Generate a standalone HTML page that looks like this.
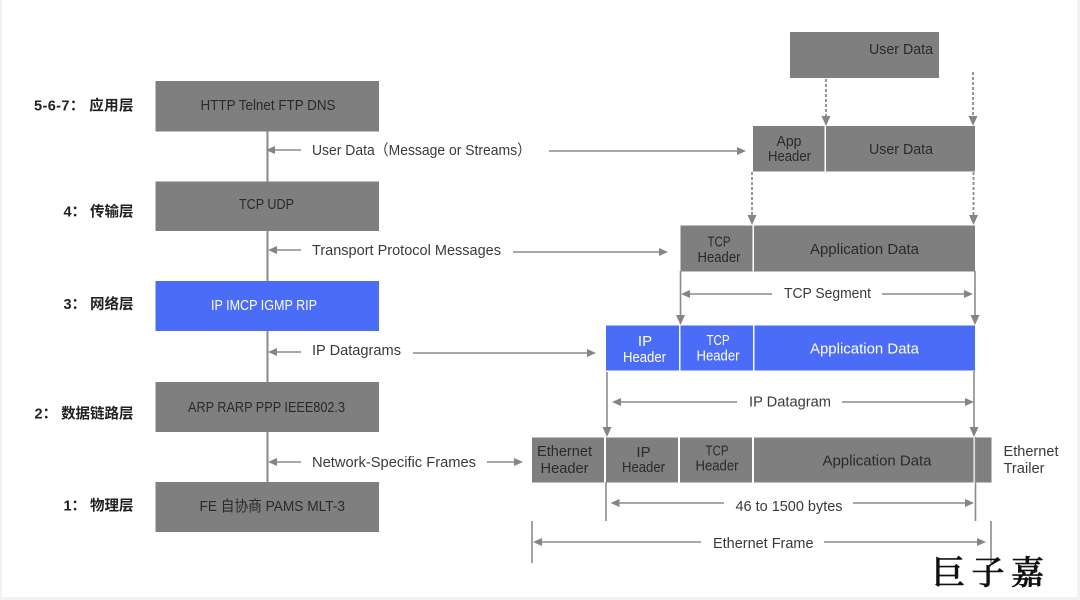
<!DOCTYPE html>
<html>
<head>
<meta charset="utf-8">
<style>
html,body{margin:0;padding:0;background:#fff;}
svg{display:block;}
text{font-family:"Liberation Sans","Noto Sans CJK SC",sans-serif;font-size:15px;fill:#3a3a3a;}
.d{fill:#2a2a2a;}
.w{fill:#fff;}
.c{text-anchor:middle;}
.b{font-weight:bold;fill:#222;font-size:14.5px;}
.g{fill:#7f7f7f;}
.u{fill:#4a6cf7;}
.l{stroke:#8a8a8a;stroke-width:1.6;fill:none;}
.t{stroke:#8a8a8a;stroke-width:2;fill:none;}
.s{stroke:#8a8a8a;stroke-width:1.8;stroke-dasharray:3 2;fill:none;}
.a{fill:#858585;}
</style>
</head>
<body>
<svg width="1080" height="600" viewBox="0 0 1080 600" xmlns="http://www.w3.org/2000/svg">
<rect x="0" y="0" width="1080" height="600" fill="#f2f2f2"/>
<rect x="2" y="0" width="1075" height="597" fill="#fff"/>

<!-- left stack -->
<line class="t" x1="267.5" y1="131" x2="267.5" y2="482"/>
<rect class="g" x="155.5" y="81" width="223.5" height="50.5"/>
<rect class="g" x="155.5" y="181.5" width="223.5" height="49.5"/>
<rect class="u" x="155.5" y="281" width="223.5" height="50"/>
<rect class="g" x="155.5" y="382" width="223.5" height="50"/>
<rect class="g" x="155.5" y="482" width="223.5" height="50"/>

<text class="d" x="200.5" y="110" textLength="135" lengthAdjust="spacingAndGlyphs">HTTP Telnet FTP DNS</text>
<text class="d" x="239" y="209" textLength="55" lengthAdjust="spacingAndGlyphs">TCP UDP</text>
<text class="w" x="211" y="310" textLength="106" lengthAdjust="spacingAndGlyphs">IP IMCP IGMP RIP</text>
<text class="d" x="188" y="412" textLength="157" lengthAdjust="spacingAndGlyphs">ARP RARP PPP IEEE802.3</text>
<text class="d" x="199.5" y="511" textLength="145.5" lengthAdjust="spacingAndGlyphs">FE 自协商 PAMS MLT-3</text>

<text class="b" x="34" y="110.5" textLength="99.5" lengthAdjust="spacing">5-6-7： 应用层</text>
<text class="b" x="63.5" y="216.5" textLength="70" lengthAdjust="spacing">4： 传输层</text>
<text class="b" x="63.5" y="309" textLength="70" lengthAdjust="spacing">3： 网络层</text>
<text class="b" x="34.5" y="418.5" textLength="99" lengthAdjust="spacing">2： 数据链路层</text>
<text class="b" x="63.5" y="510.5" textLength="70" lengthAdjust="spacing">1： 物理层</text>

<!-- middle labels and arrows -->
<line class="l" x1="275" y1="150" x2="301" y2="150"/>
<polygon class="a" points="266,150 275,146 275,154"/>
<text x="312" y="155" textLength="219" lengthAdjust="spacingAndGlyphs">User Data（Message or Streams）</text>
<line class="l" x1="549" y1="151" x2="738" y2="151"/>
<polygon class="a" points="746,151 737,147 737,155"/>

<line class="l" x1="276" y1="250" x2="301" y2="250"/>
<polygon class="a" points="268,250 277,246 277,254"/>
<text x="312" y="255" textLength="189" lengthAdjust="spacingAndGlyphs">Transport Protocol Messages</text>
<line class="l" x1="513" y1="252" x2="660" y2="252"/>
<polygon class="a" points="668,252 659,248 659,256"/>

<line class="l" x1="276" y1="352" x2="301" y2="352"/>
<polygon class="a" points="268,352 277,348 277,356"/>
<text x="312" y="355" textLength="89" lengthAdjust="spacingAndGlyphs">IP Datagrams</text>
<line class="l" x1="413" y1="353" x2="588" y2="353"/>
<polygon class="a" points="596,353 587,349 587,357"/>

<line class="l" x1="276" y1="462" x2="301" y2="462"/>
<polygon class="a" points="268,462 277,458 277,466"/>
<text x="312" y="467" textLength="164" lengthAdjust="spacingAndGlyphs">Network-Specific Frames</text>
<line class="l" x1="487" y1="462" x2="514" y2="462"/>
<polygon class="a" points="523,462 514,458 514,466"/>

<!-- top user data -->
<rect class="g" x="790" y="32" width="149" height="46"/>
<text class="d" x="869" y="54" textLength="64" lengthAdjust="spacingAndGlyphs">User Data</text>

<line class="s" x1="826" y1="79" x2="826" y2="117"/>
<polygon class="a" points="826,126 821.5,116 830.5,116"/>
<line class="s" x1="973" y1="72" x2="973" y2="117"/>
<polygon class="a" points="973,126 968.5,116 977.5,116"/>

<!-- app row -->
<rect class="g" x="753" y="126" width="71.5" height="45.5"/>
<rect class="g" x="826" y="126" width="149" height="45.5"/>
<text class="d c" x="789" y="146" textLength="25" lengthAdjust="spacingAndGlyphs">App</text>
<text class="d c" x="789.5" y="161" textLength="43" lengthAdjust="spacingAndGlyphs">Header</text>
<text class="d" x="869" y="154" textLength="64" lengthAdjust="spacingAndGlyphs">User Data</text>

<line class="s" x1="752" y1="172" x2="752" y2="216"/>
<polygon class="a" points="752,225 747.5,215 756.5,215"/>
<line class="s" x1="973.5" y1="172" x2="973.5" y2="216"/>
<polygon class="a" points="973.5,225 969,215 978,215"/>

<!-- tcp row -->
<rect class="g" x="680.5" y="225.5" width="72" height="46"/>
<rect class="g" x="754" y="225.5" width="221" height="46"/>
<text class="d c" x="719" y="246.5" textLength="23" lengthAdjust="spacingAndGlyphs">TCP</text>
<text class="d c" x="719" y="262" textLength="43" lengthAdjust="spacingAndGlyphs">Header</text>
<text class="d" x="810" y="254" textLength="109" lengthAdjust="spacingAndGlyphs">Application Data</text>

<line class="l" x1="680.5" y1="271" x2="680.5" y2="316"/>
<line class="l" x1="975" y1="271" x2="975" y2="316"/>
<polygon class="a" points="680.5,325 676,315 685,315"/>
<polygon class="a" points="975,325 970.5,315 979.5,315"/>
<line class="l" x1="689" y1="294" x2="772" y2="294"/>
<polygon class="a" points="681,294 690,290 690,298"/>
<text x="784" y="298" textLength="87" lengthAdjust="spacingAndGlyphs">TCP Segment</text>
<line class="l" x1="882" y1="294" x2="965" y2="294"/>
<polygon class="a" points="973,294 964,290 964,298"/>

<!-- ip row -->
<rect class="u" x="606" y="325.5" width="73" height="45"/>
<rect class="u" x="680.5" y="325.5" width="72.5" height="45"/>
<rect class="u" x="754.5" y="325.5" width="220.5" height="45"/>
<text class="w c" x="645" y="346">IP</text>
<text class="w c" x="644.5" y="362" textLength="43" lengthAdjust="spacingAndGlyphs">Header</text>
<text class="w c" x="718" y="345" textLength="23" lengthAdjust="spacingAndGlyphs">TCP</text>
<text class="w c" x="718" y="360.5" textLength="43" lengthAdjust="spacingAndGlyphs">Header</text>
<text class="w" x="810" y="353.5" textLength="109" lengthAdjust="spacingAndGlyphs">Application Data</text>

<line class="l" x1="607" y1="372" x2="607" y2="428"/>
<polygon class="a" points="607,437 602.5,427 611.5,427"/>
<line class="l" x1="974" y1="371" x2="974" y2="428"/>
<polygon class="a" points="974,437 969.5,427 978.5,427"/>
<line class="l" x1="620" y1="402" x2="737" y2="402"/>
<polygon class="a" points="612,402 621,398 621,406"/>
<text x="749" y="406.5" textLength="82" lengthAdjust="spacingAndGlyphs">IP Datagram</text>
<line class="l" x1="842" y1="402" x2="966" y2="402"/>
<polygon class="a" points="974,402 965,398 965,406"/>

<!-- ethernet row -->
<rect class="g" x="532" y="437.5" width="72" height="45"/>
<rect class="g" x="606" y="437.5" width="72" height="45"/>
<rect class="g" x="680" y="437.5" width="72" height="45"/>
<rect class="g" x="754" y="437.5" width="219.5" height="45"/>
<rect class="g" x="976" y="437.5" width="15.5" height="45"/>
<text class="d c" x="564.5" y="456" textLength="55" lengthAdjust="spacingAndGlyphs">Ethernet</text>
<text class="d c" x="564.5" y="473" textLength="48" lengthAdjust="spacingAndGlyphs">Header</text>
<text class="d c" x="643.5" y="457">IP</text>
<text class="d c" x="643.5" y="472" textLength="43" lengthAdjust="spacingAndGlyphs">Header</text>
<text class="d c" x="717" y="455.5" textLength="23" lengthAdjust="spacingAndGlyphs">TCP</text>
<text class="d c" x="717" y="470.5" textLength="43" lengthAdjust="spacingAndGlyphs">Header</text>
<text class="d" x="822.5" y="465.5" textLength="109" lengthAdjust="spacingAndGlyphs">Application Data</text>

<text x="1003.5" y="456" textLength="55" lengthAdjust="spacingAndGlyphs">Ethernet</text>
<text x="1003.5" y="473" textLength="41" lengthAdjust="spacingAndGlyphs">Trailer</text>

<!-- bytes -->
<line class="l" x1="606" y1="482" x2="606" y2="521"/>
<line class="l" x1="975.5" y1="437" x2="975.5" y2="521"/>
<line class="l" x1="618" y1="503" x2="724" y2="503"/>
<polygon class="a" points="610.5,503 619.5,499 619.5,507"/>
<text x="735.5" y="511" textLength="107" lengthAdjust="spacingAndGlyphs">46 to 1500 bytes</text>
<line class="l" x1="853" y1="503" x2="966" y2="503"/>
<polygon class="a" points="974,503 965,499 965,507"/>

<!-- frame -->
<line class="l" x1="532" y1="521" x2="532" y2="563"/>
<line class="l" x1="991" y1="521" x2="991" y2="563"/>
<line class="l" x1="541" y1="542" x2="701" y2="542"/>
<polygon class="a" points="533,542 542,538 542,546"/>
<text x="713" y="548" textLength="100.5" lengthAdjust="spacingAndGlyphs">Ethernet Frame</text>
<line class="l" x1="824" y1="542" x2="978" y2="542"/>
<polygon class="a" points="986,542 977,538 977,546"/>

<!-- signature -->
<text x="932" y="584" style="font-family:'Noto Serif CJK SC','Liberation Serif',serif;font-size:33px;font-weight:500;fill:#111;stroke:#111;stroke-width:0.7;" textLength="112">巨子嘉</text>
</svg>
</body>
</html>
